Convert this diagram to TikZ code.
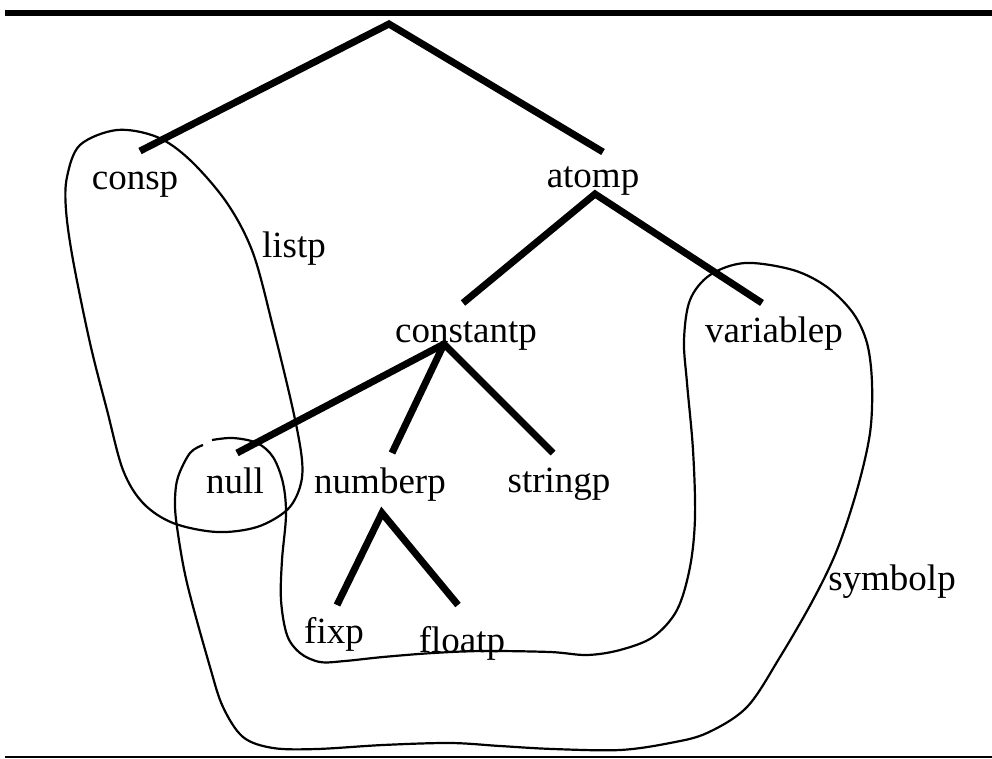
\documentclass[tikz,border=0pt]{standalone}
\usepackage{fontspec}
\setmainfont{Liberation Serif}
\begin{document}
\begin{tikzpicture}[x=1pt,y=-1pt,
  lbl/.style={anchor=base,inner sep=0pt,font=\fontsize{37}{44}\selectfont},
  branch/.style={line width=7pt,line cap=butt,line join=miter},
  blob/.style={line width=2.2pt,line join=round}]
\useasboundingbox (0,0) rectangle (992,759);

% rules above and below
\draw[line width=6pt] (5,13) -- (992,13);
\draw[line width=2pt] (5,757) -- (992,757);

% labels
\node[lbl] (consp)     at (135,190) {consp};
\node[lbl] (atomp)     at (593,188) {atomp};
\node[lbl] (listp)     at (294,258) {listp};
\node[lbl] (constantp) at (466,342) {constantp};
\node[lbl] (variablep) at (774,342) {variablep};
\node[lbl] (null)      at (235,493) {null};
\node[lbl] (numberp)   at (380,493) {numberp};
\node[lbl] (stringp)   at (559,492) {stringp};
\node[lbl] (fixp)      at (334,643) {fixp};
\node[lbl] (floatp)    at (462,652) {floatp};
\node[lbl] (symbolp)   at (892,590) {symbolp};

% branch points and branch ends
\coordinate (root)    at (389,24);
\coordinate (consp-t) at (140,151);
\coordinate (atomp-t) at (603,152);
\coordinate (atomp-b) at (595,194);
\coordinate (const-t) at (463,303);
\coordinate (var-t)   at (762,303);
\coordinate (const-b) at (444,344);
\coordinate (null-t)  at (237,453);
\coordinate (num-t)   at (392,453);
\coordinate (str-t)   at (553,453);
\coordinate (num-b)   at (382,513);
\coordinate (fix-t)   at (337,605);
\coordinate (float-t) at (458,605);

% tree
\draw[branch] (consp-t) -- (root) -- (atomp-t);
\draw[branch] (const-t) -- (atomp-b) -- (var-t);
\draw[branch] (null-t) -- (const-b) -- (str-t);
\draw[branch] (const-b) -- (num-t);
\draw[branch] (fix-t) -- (num-b) -- (float-t);

% listp region
\draw[blob] plot[smooth cycle,tension=0.55] coordinates {
  (117,130) (157,137) (190,160) (227,203) (253,253) (273,327) (293,410)
  (302,460) (300,487) (287,510) (257,527) (217,532) (173,523) (143,503)
  (123,470) (107,410) (90,343) (73,260) (66,210) (67,177) (80,145)};

% symbolp region (open where the pen started)
\draw[blob] plot[smooth,tension=0.55] coordinates {
  (212,440) (233,438) (257,443) (273,457) (283,483) (286,515) (282,560)
  (281,600) (287,635) (300,653) (320,662) (345,661) (383,657) (433,653)
  (483,651) (550,652) (587,655) (620,650) (653,637) (677,610) (690,567)
  (695,517) (693,450) (687,383) (684,340) (690,300) (710,275) (745,263)
  (793,270) (827,287) (853,313) (867,343) (872,383) (870,433) (857,490)
  (837,550) (813,600) (780,657) (747,707) (707,733) (670,743) (620,750)
  (553,749) (500,746) (450,743) (383,745) (317,749) (273,748) (243,737)
  (223,707) (210,667) (187,583) (177,527) (175,500) (178,477) (190,453)
  (203,445)};
\end{tikzpicture}
\end{document}
